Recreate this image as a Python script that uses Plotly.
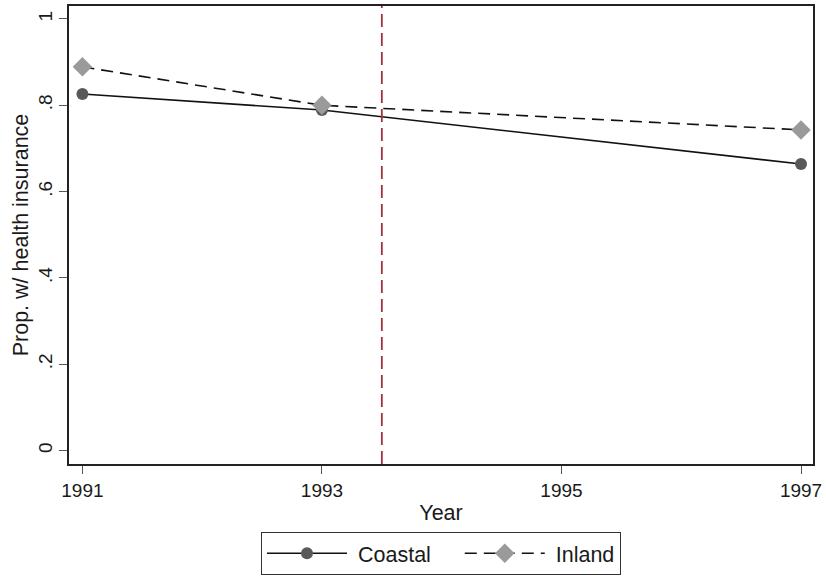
import plotly.graph_objects as go

# Survey years and share of respondents with health insurance
years = [1991, 1993, 1997]
coastal = [0.826, 0.789, 0.664]
inland = [0.889, 0.800, 0.743]

x_ticks = [1991, 1993, 1995, 1997]
x_tick_labels = ["1991", "1993", "1995", "1997"]
y_ticks = [0, 0.2, 0.4, 0.6, 0.8, 1.0]
y_tick_labels = ["0", ".2", ".4", ".6", ".8", "1"]

policy_year = 1993.5

FONT = "Liberation Sans, Arial, sans-serif"
AXIS_COLOR = "#222222"
TICK_FS = 19
TITLE_FS = 21.5
NBSP = "\u00a0"

fig = go.Figure()

# Non-breaking spaces widen the gaps around the legend labels
fig.add_trace(go.Scatter(
    x=years, y=coastal, name=NBSP + "Coastal" + NBSP * 4, mode="lines+markers",
    line=dict(color="#111111", width=1.6, dash="solid"),
    marker=dict(symbol="circle", size=12, color="#595959"),
))
fig.add_trace(go.Scatter(
    x=years, y=inland, name=NBSP + "Inland", mode="lines+markers",
    line=dict(color="#111111", width=1.6, dash="12px,7px"),
    marker=dict(symbol="diamond", size=15, color="#9a9a9a"),
))

# Vertical reference line between the 1993 and 1995 waves
fig.add_shape(
    type="line", xref="x", yref="paper",
    x0=policy_year, x1=policy_year, y0=0, y1=1,
    line=dict(color="#a3303a", width=1.8, dash="13px,6px"),
)

fig.update_layout(
    width=826, height=576,
    margin=dict(l=69, r=13, t=6, b=112, autoexpand=False),
    paper_bgcolor="white", plot_bgcolor="white",
    font=dict(family=FONT, size=TICK_FS, color="#1a1a1a"),
    showlegend=True,
    legend=dict(
        orientation="h",
        x=0.5, xanchor="center",
        y=-0.148, yanchor="top",
        bordercolor="#333333", borderwidth=1,
        font=dict(size=TITLE_FS),
        itemwidth=80,
        traceorder="normal",
    ),
)

fig.update_xaxes(
    range=[1990.888, 1997.1],
    tickmode="array", tickvals=x_ticks, ticktext=x_tick_labels,
    ticks="outside", ticklen=8, tickwidth=1.3, tickcolor="#555555",
    showline=True, linecolor=AXIS_COLOR, linewidth=1.5, mirror=True,
    showgrid=False, zeroline=False, automargin=False,
    tickfont=dict(size=TICK_FS),
    title=dict(text="Year", font=dict(size=TITLE_FS), standoff=5),
)
fig.update_yaxes(
    range=[-0.031, 1.03],
    tickmode="array", tickvals=y_ticks, ticktext=y_tick_labels,
    tickangle=-90,
    ticks="outside", ticklen=8, tickwidth=1.3, tickcolor="#555555",
    showline=True, linecolor=AXIS_COLOR, linewidth=1.5, mirror=True,
    showgrid=False, zeroline=False, automargin=False,
    tickfont=dict(size=TICK_FS),
    title=dict(text="Prop. w/ health insurance", font=dict(size=TITLE_FS), standoff=0),
)

fig.write_html("out.html")
